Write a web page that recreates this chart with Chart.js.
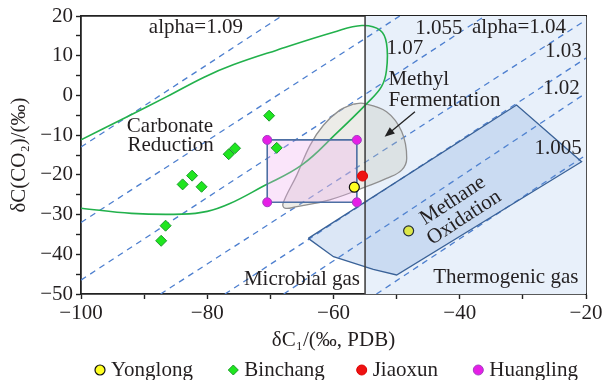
<!DOCTYPE html>
<html><head><meta charset="utf-8">
<script src="https://cdn.jsdelivr.net/npm/chart.js@4.4.0/dist/chart.umd.min.js"></script>
<style>html,body{margin:0;padding:0;background:#fff;}canvas{display:block;}</style>
</head><body>
<canvas id="c" width="603" height="380"></canvas>
<script>
// ---------------- data ----------------
const xTickValues = [-100, -80, -60, -40, -20];
const xTickLabels = ['−100', '−80', '−60', '−40', '−20'];
const yTickValues = [20, 10, 0, -10, -20, -30, -40, -50];
const yTickLabels = ['20', '10', '0', '−10', '−20', '−30', '−40', '−50'];

const seriesNames = ['Yonglong', 'Binchang', 'Jiaoxun', 'Huangling'];

const yonglongX = [-56.7, -48.1];
const yonglongY = [-23.1, -34.1];
const binchangX = [-70.2, -69.0, -76.6, -75.6, -82.4, -83.9, -80.9, -86.6, -87.3];
const binchangY = [-5.1, -13.2, -14.8, -13.3, -20.2, -22.4, -23.0, -32.8, -36.6];
const jiaoxunX = [-55.4];
const jiaoxunY = [-20.3];
const huanglingX = [-70.5, -56.3, -70.5, -56.3];
const huanglingY = [-11.2, -11.2, -26.9, -26.9];

// fractionation (alpha) lines, two end points each
const alphaLabels = ['1.09', '1.07', '1.055', '1.04', '1.03', '1.02', '1.005'];
const alphaX1 = [-100, -100, -100, -87.4, -77.2, -67.9, -53.2];
const alphaY1 = [-13, -32, -46.5, -50, -50, -50, -50];
const alphaX2 = [-68.2, -49.5, -36, -20, -20, -20, -20];
const alphaY2 = [20, 20, 20, 19, 9.4, 0.6, -15];

// microbial / thermogenic boundary
const boundaryX = [-55, -55];
const boundaryY = [-50, 20];
const thermoX = [-55, -20, -20, -55, -55];
const thermoY = [-50, -50, 20, 20, -50];

// carbonate reduction field (green curve)
const carbX = [-100, -93, -86.4, -80.5, -75.9, -69, -60, -55.5, -52.6, -51.6, -51.6, -52.4, -54.7, -59.5, -65, -71.3, -76.5, -80, -84, -92, -100];
const carbY = [-11.2, -5.6, -0.3, 4.6, 7.7, 11.4, 15.9, 17.6, 16.4, 13.1, 6.4, 2.2, -2.0, -9.5, -17.5, -23, -27.3, -29.2, -29.9, -29.7, -28.4];

// methyl fermentation field (grey)
const fermX = [-56.9, -55.3, -51.6, -49.2, -48.4, -49.2, -51.6, -54.2, -60.6, -65.8, -67.7, -68, -65.8, -63.7, -61.6, -59, -56.9];
const fermY = [-2.2, -2.0, -4.1, -9.1, -15.8, -18.8, -20.9, -22.6, -26.3, -28.0, -28.4, -27.2, -20, -12.5, -7.5, -3.7, -2.2];

// Huangling range box
const boxX = [-70.5, -56.3, -56.3, -70.5, -70.5];
const boxY = [-11.2, -11.2, -26.9, -26.9, -11.2];

// methane oxidation field
const oxidX = [-64, -60, -53.7, -50, -20.7, -31, -64];
const oxidY = [-36, -40.6, -43.8, -45.2, -16.7, -2.4, -36];

// ---------------- styles ----------------
const FONT = "'Liberation Serif', 'Times New Roman', Times, serif";
const INK = '#231f20';
const FS = 21;

function pts(xs, ys) { return xs.map((x, i) => ({x: x, y: ys[i]})); }
function fmtTick(values, labels) {
  return function (v) { const i = values.indexOf(Math.round(v * 1000) / 1000); return i >= 0 ? labels[i] : ''; };
}

const datasets = [];
datasets.push({label: 'thermo', data: pts(thermoX, thermoY), showLine: true, fill: 'shape',
  backgroundColor: '#e8f0fa', borderWidth: 0, pointRadius: 0, order: 100});
alphaLabels.forEach((a, i) => {
  datasets.push({label: 'alpha ' + a, data: pts([alphaX1[i], alphaX2[i]], [alphaY1[i], alphaY2[i]]),
    showLine: true, fill: false, borderColor: '#4d7fcf', borderWidth: 1.3, borderDash: [6, 5],
    pointRadius: 0, order: 90});
});
datasets.push({label: 'ferm', data: pts(fermX, fermY), showLine: true, fill: 'shape', tension: 0.4,
  backgroundColor: 'rgba(195,195,185,0.32)', borderColor: '#8f8f8f', borderWidth: 1.3, pointRadius: 0, order: 80});
datasets.push({label: 'carb', data: pts(carbX, carbY), showLine: true, fill: false, tension: 0.4,
  borderColor: '#22b14c', borderWidth: 1.6, pointRadius: 0, order: 70});
datasets.push({label: 'box', data: pts(boxX, boxY), showLine: true, fill: 'shape',
  backgroundColor: 'rgba(240,170,240,0.3)', borderColor: '#4d6fa3', borderWidth: 1.6, pointRadius: 0, order: 60});
datasets.push({label: seriesNames[0], data: pts(yonglongX, yonglongY), pointStyle: 'circle', pointRadius: 5,
  backgroundColor: '#ffff22', borderColor: '#111', borderWidth: 1.2, order: 50});
datasets.push({label: 'oxid', data: pts(oxidX, oxidY), showLine: true, fill: 'shape',
  backgroundColor: 'rgba(95,145,215,0.22)', borderColor: '#3a6298', borderWidth: 1.3, pointRadius: 0, order: 40});
datasets.push({label: 'boundary', data: pts(boundaryX, boundaryY), showLine: true, fill: false,
  borderColor: '#444', borderWidth: 1.6, pointRadius: 0, order: 30});
datasets.push({label: seriesNames[1], data: pts(binchangX, binchangY), pointStyle: 'rectRot', pointRadius: 5.5,
  backgroundColor: '#1fe61f', borderColor: '#1a9a2a', borderWidth: 1, order: 20});
datasets.push({label: seriesNames[2], data: pts(jiaoxunX, jiaoxunY), pointStyle: 'circle', pointRadius: 5,
  backgroundColor: '#ee1111', borderColor: '#dd0000', borderWidth: 1, order: 10});
datasets.push({label: seriesNames[3], data: pts(huanglingX, huanglingY), pointStyle: 'circle', pointRadius: 4.5,
  backgroundColor: '#e61ee6', borderColor: '#a040c0', borderWidth: 1, order: 5});

// text annotations (data coordinates)
const notes = [
  {t: 'alpha=1.09', x: -81.8, y: 17.0},
  {t: '1.055', x: -43.3, y: 16.9},
  {t: 'alpha=1.04', x: -30.6, y: 17.0},
  {t: '1.07', x: -48.7, y: 11.9},
  {t: '1.03', x: -23.6, y: 11.0},
  {t: '1.02', x: -23.9, y: 1.8},
  {t: '1.005', x: -24.4, y: -13.3},
  {t: 'Methyl', x: -51.3, y: 3.9, align: 'left'},
  {t: 'Fermentation', x: -51.3, y: -1.2, align: 'left'},
  {t: 'Carbonate', x: -85.9, y: -7.7},
  {t: 'Reduction', x: -85.8, y: -12.7},
  {t: 'Microbial gas', x: -65.0, y: -46.3},
  {t: 'Thermogenic gas', x: -32.7, y: -45.8},
  {t: 'Methane', x: -41.1, y: -26.5, rot: -33},
  {t: 'Oxidation', x: -39.3, y: -30.8, rot: -33}
];
const arrow = {x1: -47.1, y1: -4.1, x2: -51.9, y2: -10.4};

const annotPlugin = {
  id: 'annot',
  afterDatasetsDraw(chart) {
    const {ctx} = chart; const sx = chart.scales.x, sy = chart.scales.y;
    ctx.save();
    ctx.fillStyle = INK; ctx.font = FS + 'px ' + FONT; ctx.textBaseline = 'middle';
    notes.forEach(n => {
      ctx.save();
      ctx.translate(sx.getPixelForValue(n.x), sy.getPixelForValue(n.y));
      if (n.rot) ctx.rotate(n.rot * Math.PI / 180);
      ctx.textAlign = n.align || 'center';
      ctx.fillText(n.t, 0, 0);
      ctx.restore();
    });
    const ax1 = sx.getPixelForValue(arrow.x1), ay1 = sy.getPixelForValue(arrow.y1);
    const ax2 = sx.getPixelForValue(arrow.x2), ay2 = sy.getPixelForValue(arrow.y2);
    const ang = Math.atan2(ay2 - ay1, ax2 - ax1);
    ctx.strokeStyle = '#222'; ctx.lineWidth = 1.3;
    ctx.beginPath(); ctx.moveTo(ax1, ay1); ctx.lineTo(ax2 - 6 * Math.cos(ang), ay2 - 6 * Math.sin(ang)); ctx.stroke();
    ctx.fillStyle = '#222';
    ctx.beginPath(); ctx.moveTo(ax2, ay2);
    ctx.lineTo(ax2 - 10 * Math.cos(ang) + 4 * Math.sin(ang), ay2 - 10 * Math.sin(ang) - 4 * Math.cos(ang));
    ctx.lineTo(ax2 - 10 * Math.cos(ang) - 4 * Math.sin(ang), ay2 - 10 * Math.sin(ang) + 4 * Math.cos(ang));
    ctx.closePath(); ctx.fill();
    ctx.restore();
  }
};

// legend: marker centres measured from chart-area left edge
const legendOffsets = [19, 152.3, 280.7, 397.3];
const legendPlugin = {
  id: 'customLegend',
  afterDraw(chart) {
    const {ctx, chartArea} = chart;
    ctx.save();
    ctx.font = FS + 'px ' + FONT; ctx.textBaseline = 'middle'; ctx.textAlign = 'left';
    const y = 370;
    seriesNames.forEach((name, i) => {
      const d = datasets.find(ds => ds.label === name);
      const cx = chartArea.left + legendOffsets[i];
      ctx.fillStyle = d.backgroundColor; ctx.strokeStyle = d.borderColor; ctx.lineWidth = d.borderWidth;
      Chart.helpers.drawPoint(ctx, {pointStyle: d.pointStyle, radius: 5, rotation: 0, borderWidth: d.borderWidth}, cx, y);
      ctx.fillStyle = INK;
      ctx.fillText(name, cx + 11, y);
    });
    ctx.restore();
  }
};

const tickFont = {family: FONT, size: FS};
new Chart(document.getElementById('c'), {
  type: 'scatter',
  data: {datasets: datasets},
  options: {
    responsive: false, animation: false,
    layout: {padding: {left: 7, right: 17, top: 16, bottom: 27}},
    plugins: {legend: {display: false}, tooltip: {enabled: false}},
    scales: {
      x: {type: 'linear', position: 'bottom', min: -100, max: -20,
        ticks: {stepSize: 10, autoSkip: false, maxRotation: 0, padding: 2, color: INK, font: tickFont,
          callback: fmtTick(xTickValues, xTickLabels)},
        grid: {display: true, drawOnChartArea: false, drawTicks: true, tickLength: 5, tickColor: '#222', tickWidth: 1.4},
        border: {display: true, color: '#222', width: 1.8},
        title: {display: true, text: 'δC₁/(‰, PDB)', color: INK, font: tickFont, padding: 0},
        afterFit(s) { s.height = 59; s.paddingLeft = 0; s.paddingRight = 0; }
      },
      y: {type: 'linear', position: 'left', min: -50, max: 20,
        ticks: {stepSize: 5, autoSkip: false, padding: 3, color: INK, font: tickFont,
          callback: fmtTick(yTickValues, yTickLabels)},
        grid: {display: true, drawOnChartArea: false, drawTicks: true, tickLength: 5, tickColor: '#222', tickWidth: 1.4},
        border: {display: true, color: '#222', width: 1.8},
        title: {display: true, text: 'δC(CO₂)/(‰)', color: INK, font: tickFont, padding: 0},
        afterFit(s) { s.width = 74; s.paddingTop = 0; s.paddingBottom = 0; }
      },
      xTop: {type: 'linear', position: 'top', min: -100, max: -20, display: true,
        ticks: {display: false}, grid: {display: false, drawTicks: false},
        border: {display: true, color: '#222', width: 1.8},
        afterFit(s) { s.height = 0; s.paddingLeft = 0; s.paddingRight = 0; }
      },
      yRight: {type: 'linear', position: 'right', min: -50, max: 20, display: true,
        ticks: {display: false}, grid: {display: false, drawTicks: false},
        border: {display: true, color: '#222', width: 1.8},
        afterFit(s) { s.width = 0; s.paddingTop = 0; s.paddingBottom = 0; }
      }
    }
  },
  plugins: [annotPlugin, legendPlugin]
});
</script>
</body></html>
